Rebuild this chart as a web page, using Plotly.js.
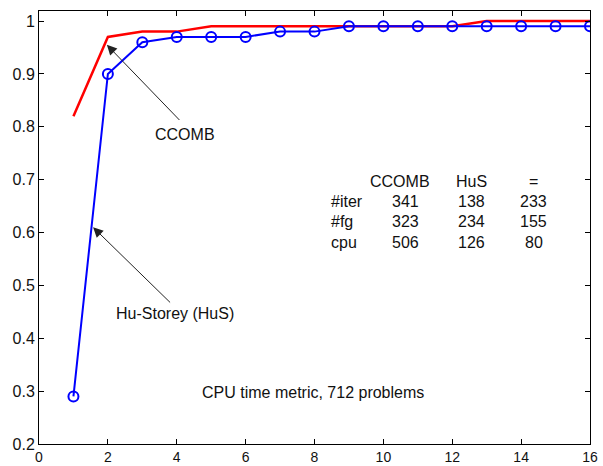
<!DOCTYPE html>
<html><head><meta charset="utf-8">
<script src="https://cdn.plot.ly/plotly-3.0.1.min.js"></script>
<style>html,body{margin:0;padding:0;background:#fff}#chart{width:603px;height:466px}</style>
</head><body><div id="chart"></div>
<script>
const xValues = [1,2,3,4,5,6,7,8,9,10,11,12,13,14,15,16];
const ccomb = [0.82,0.97,0.98,0.98,0.99,0.99,0.99,0.99,0.99,0.99,0.99,0.99,1.0,1.0,1.0,1.0];
const hus = [0.29,0.90,0.96,0.97,0.97,0.97,0.98,0.98,0.99,0.99,0.99,0.99,0.99,0.99,0.99,0.99];
const xTicks = [0,2,4,6,8,10,12,14,16];
const yTicks = [0.2,0.3,0.4,0.5,0.6,0.7,0.8,0.9,1];
const yTickText = ["0.2","0.3","0.4","0.5","0.6","0.7","0.8","0.9","1"];
const tableHeader = ["CCOMB","HuS","="];
const rowLabels = ["#iter","#fg","cpu"];
const ccombStats = [341,323,506];
const husStats = [138,234,126];
const eqStats = [233,155,80];
const noteText = "CPU time metric, 712 problems";

const font = {family:"Liberation Sans, Arial, sans-serif", size:16, color:"#111"};
const tickFont = {family:"Liberation Sans, Arial, sans-serif", size:16, color:"#111"};
const xTickFont = {family:"Liberation Sans, Arial, sans-serif", size:14, color:"#111"};
const colX = [10.48,12.57,14.37];
const labelX = 8.42;
const rowY = [0.658,0.621,0.581];
const headerY = 0.696;

const ann = [];
tableHeader.forEach((h,i)=>ann.push({x:colX[i],y:headerY,xref:'x',yref:'y',text:h,showarrow:false,font:font,xanchor:'center',yanchor:'middle'}));
rowLabels.forEach((r,j)=>{
  ann.push({x:labelX,y:rowY[j],xref:'x',yref:'y',text:r,showarrow:false,font:font,xanchor:'left',yanchor:'middle'});
  [ccombStats,husStats,eqStats].forEach((arr,i)=>ann.push({x:colX[i]+(i===0?0.15:0),y:rowY[j],xref:'x',yref:'y',text:String(arr[j]),showarrow:false,font:font,xanchor:'center',yanchor:'middle'}));
});
ann.push({x:7.96,y:0.298,xref:'x',yref:'y',text:noteText,showarrow:false,font:font,xanchor:'center',yanchor:'middle'});
ann.push({x:4.24,y:0.785,xref:'x',yref:'y',text:"CCOMB",showarrow:false,font:font,xanchor:'center',yanchor:'middle'});
ann.push({x:3.95,y:0.447,xref:'x',yref:'y',text:"Hu-Storey (HuS)",showarrow:false,font:font,xanchor:'center',yanchor:'middle'});
ann.push({x:1.97,y:0.955,ax:4.12,ay:0.81,xref:'x',yref:'y',axref:'x',ayref:'y',text:'',showarrow:true,arrowhead:2,arrowsize:2,arrowwidth:1,arrowcolor:'#222'});
ann.push({x:1.57,y:0.61,ax:3.85,ay:0.465,xref:'x',yref:'y',axref:'x',ayref:'y',text:'',showarrow:true,arrowhead:2,arrowsize:2,arrowwidth:1,arrowcolor:'#222'});

const data = [
  {x:xValues,y:ccomb,type:'scatter',mode:'lines',line:{color:'#ff0000',width:2.5},hoverinfo:'skip'},
  {x:xValues,y:hus,type:'scatter',mode:'lines+markers',line:{color:'#0000ff',width:2},marker:{symbol:'circle-open',size:10,color:'#0000ff',line:{width:2,color:'#0000ff'}},hoverinfo:'skip'}
];
const axisCommon = {showgrid:false,zeroline:false,showline:true,mirror:'ticks',linecolor:'#000',linewidth:1,ticks:'inside',ticklen:5,tickcolor:'#000'};
const layout = {
  width:603,height:466,margin:{l:39,r:13,t:11,b:22},
  paper_bgcolor:'#fff',plot_bgcolor:'#fff',showlegend:false,
  xaxis:Object.assign({range:[0,16],tickvals:xTicks,ticktext:xTicks.map(String),ticklabelstandoff:0,tickfont:xTickFont},axisCommon),
  yaxis:Object.assign({range:[0.2,1.019],tickvals:yTicks,ticktext:yTickText,tickfont:tickFont},axisCommon),
  annotations:ann
};
Plotly.newPlot('chart',data,layout,{displayModeBar:false,staticPlot:true});
</script></body></html>
